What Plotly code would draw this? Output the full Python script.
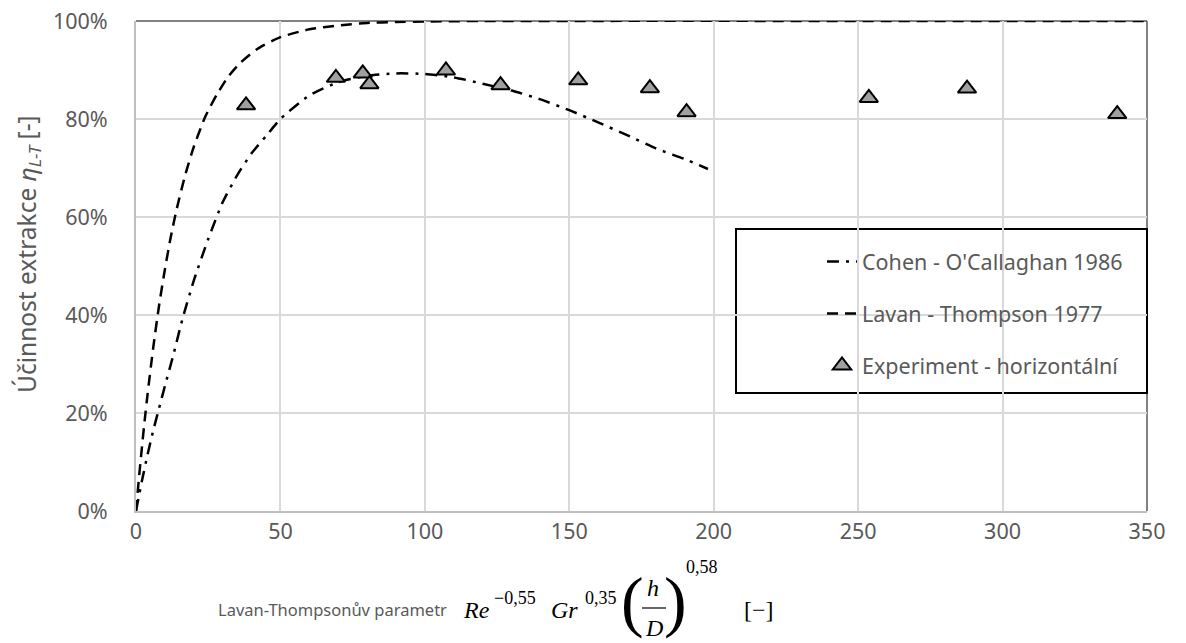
import plotly.graph_objects as go

# ---------------- data ----------------
exp_x = [38.1, 69.2, 78.5, 80.8, 107.3, 126.2, 153.1, 177.9, 190.6, 253.7, 287.7, 339.7]
exp_y = [82.8, 88.4, 89.3, 87.1, 89.9, 86.9, 87.9, 86.3, 81.4, 84.3, 86.2, 81.0]

cohen_x = [0, 2, 4, 6, 8, 10, 13, 16, 20, 25, 30, 35, 40, 45, 50, 60, 70, 80, 90,
           100, 110, 120, 130, 140, 150, 160, 170, 180, 190, 198]
cohen_y = [0, 6, 11.5, 16.5, 21, 25.5, 32, 39, 47, 55.5, 63, 68.5, 73, 76.5, 80, 84.8,
           87.5, 88.8, 89.3, 89.2, 88.5, 87.2, 85.8, 84, 81.8, 79.3, 76.7, 74, 71.8, 69.8]

lavan_x = [0, 1, 2, 3, 4, 6, 8, 10, 12, 14, 17, 20, 24, 28, 32, 36, 42, 50, 60, 70,
           80, 90, 100, 120, 350]
lavan_y = [0, 6.6, 12.7, 18.5, 23.8, 33.5, 42, 49.3, 55.8, 61.4, 68.5, 74.3, 80.5, 85,
           88.7, 91.4, 94.3, 96.7, 98.3, 99.1, 99.6, 99.8, 99.9, 100, 100]

x_ticks = [0, 50, 100, 150, 200, 250, 300, 350]
y_ticks = [0, 20, 40, 60, 80, 100]
y_tick_labels = ["0%", "20%", "40%", "60%", "80%", "100%"]

series_names = ["Cohen - O'Callaghan 1986", "Lavan - Thompson 1977", "Experiment - horizontální"]

# ---------------- layout geometry ----------------
W, H = 1186, 643
L, R, T, B = 136, 39, 21, 132
PW, PH = W - L - R, H - T - B


def xp(px):
    return (px - L) / PW


def yp(py):
    return (H - B - py) / PH


GRAY_TXT = "#595959"
LABEL_FONT = "Noto Sans"
MATH_FONT = "Liberation Serif"

fig = go.Figure()

fig.add_trace(go.Scatter(
    x=cohen_x, y=cohen_y, mode="lines", name=series_names[0], legendgroup="a",
    line=dict(color="black", width=2.5, dash="12px,7px,3px,7px", shape="spline", smoothing=0.6),
))
fig.add_trace(go.Scatter(
    x=lavan_x, y=lavan_y, mode="lines", name=series_names[1], legendgroup="b",
    line=dict(color="black", width=2.5, dash="11px,7px", shape="spline", smoothing=0.6),
))
fig.add_trace(go.Scatter(
    x=exp_x, y=exp_y, mode="markers", name=series_names[2], legendgroup="c",
    marker=dict(symbol="triangle-up", size=16, color="#a0a0a0",
                line=dict(color="black", width=2)),
))

fig.update_layout(
    width=W, height=H,
    margin=dict(l=L, r=R, t=T, b=B, autoexpand=False),
    paper_bgcolor="white", plot_bgcolor="white",
    font=dict(family=LABEL_FONT, size=21, color=GRAY_TXT),
    showlegend=True,
    legend=dict(
        x=xp(822), y=yp(241), xanchor="left", yanchor="top",
        bgcolor="rgba(0,0,0,0)", borderwidth=0,
        font=dict(family=LABEL_FONT, size=21.5, color=GRAY_TXT),
        tracegroupgap=21,
    ),
    xaxis=dict(
        range=[0, 350], tickvals=x_ticks, showgrid=True, gridcolor="#d9d9d9", gridwidth=1.5,
        showline=True, linecolor="#bfbfbf", linewidth=2, zeroline=False, ticks="",
        automargin=False,
        tickfont=dict(family=LABEL_FONT, size=21.5, color=GRAY_TXT),
    ),
    yaxis=dict(
        range=[0, 100], tickvals=y_ticks, ticktext=y_tick_labels, showgrid=True,
        gridcolor="#d9d9d9", gridwidth=1.5, showline=True, linecolor="#bfbfbf", linewidth=2,
        zeroline=False, ticks="", ticklabelstandoff=22, automargin=False,
        tickfont=dict(family=LABEL_FONT, size=21.5, color=GRAY_TXT),
    ),
)

# top and right frame lines (darker)
fig.add_shape(type="line", xref="paper", yref="paper", x0=0, x1=1, y0=1, y1=1,
              line=dict(color="#595959", width=1.5), layer="below")
fig.add_shape(type="line", xref="paper", yref="paper", x0=1, x1=1, y0=0, y1=1,
              line=dict(color="#595959", width=1.5), layer="below")

# legend box
fig.add_shape(type="rect", xref="paper", yref="paper",
              x0=xp(736), x1=xp(1147), y0=yp(393), y1=yp(229),
              line=dict(color="black", width=2), fillcolor="white", layer="below")


def ann(text, px, py, size, family=LABEL_FONT, xanchor="left", color=GRAY_TXT, angle=0):
    fig.add_annotation(text=text, x=xp(px), y=yp(py), xref="paper", yref="paper",
                       showarrow=False, xanchor=xanchor, yanchor="middle", textangle=angle,
                       font=dict(family=family, size=size, color=color))


# y-axis title
ann("Účinnost extrakce <i>η</i><sub><i>L-T</i></sub> [-]", 28, 254, 24.5,
    xanchor="center", angle=-90)

# x-axis title built from text pieces
ann("Lavan-Thompsonův parametr", 216, 609, 16.5)
ann("<i>Re</i>", 461, 610, 24, MATH_FONT, color="black")
ann("−0,55", 492, 598, 18, MATH_FONT, color="black")
ann("<i>Gr</i>", 549, 610, 24, MATH_FONT, color="black")
ann("0,35", 583, 598, 18, MATH_FONT, color="black")
ann("(", 632, 601, 68, MATH_FONT, xanchor="center", color="black")
ann("<i>h</i>", 653, 588, 24, MATH_FONT, xanchor="center", color="black")
ann("<i>D</i>", 654, 628, 24, MATH_FONT, xanchor="center", color="black")
ann(")", 675, 601, 68, MATH_FONT, xanchor="center", color="black")
ann("0,58", 702, 567, 18, MATH_FONT, xanchor="center", color="black")
ann("[−]", 759, 610, 24, MATH_FONT, xanchor="center", color="black")
fig.add_shape(type="line", xref="paper", yref="paper", x0=xp(642), x1=xp(666),
              y0=yp(608), y1=yp(608), line=dict(color="black", width=1.2))

fig.write_html("out.html")
